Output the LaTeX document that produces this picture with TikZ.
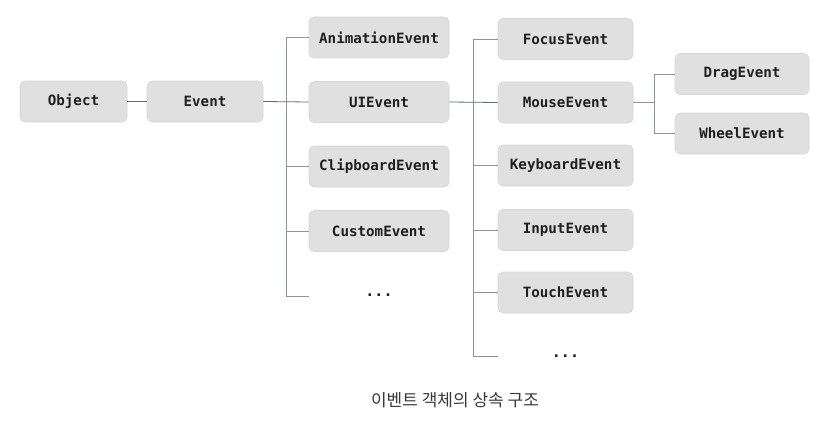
\documentclass[tikz,border=0pt]{standalone}
\usepackage{fontspec}
\setmonofont{DejaVu Sans Mono}
\newfontfamily\krfont{Noto Sans CJK KR}
\begin{document}
\begin{tikzpicture}[x=1pt,y=-1pt,
  box/.style={draw=boxline,fill=boxfill,rounded corners=5pt,line width=0.6pt,
    minimum height=41pt,inner sep=0pt,font=\ttfamily\bfseries\fontsize{14.2}{16}\selectfont,text=black!88},
  b1/.style={box,minimum width=107pt},
  b2/.style={box,minimum width=116pt},
  b3/.style={box,minimum width=140pt},
  b4/.style={box,minimum width=135pt},
  b5/.style={box,minimum width=134pt},
  conn/.style={draw=linegray,line width=0.8pt},
  mainconn/.style={draw=linedark,line width=0.8pt},
  dots/.style={font=\ttfamily\bfseries\fontsize{15}{16}\selectfont,inner sep=0pt,text=black!88}]
\definecolor{boxfill}{HTML}{E0E0E0}
\definecolor{boxline}{HTML}{D6D6D6}
\definecolor{linegray}{HTML}{8E949C}
\definecolor{linedark}{HTML}{5E6B7C}
\useasboundingbox (0,0) rectangle (820,428);
% column 0/1
\node[b1] (obj) at (73.5,101.5) {Object};
\node[b2] (evt) at (205,101.5) {Event};
% column 2
\node[b3] (anim) at (379,37.5) {AnimationEvent};
\node[b3] (ui) at (379,102) {UIEvent};
\node[b3] (clip) at (379,166.5) {ClipboardEvent};
\node[b3] (cust) at (379,231) {CustomEvent};
\node[dots] (dots2) at (379,295) {...};
% column 3
\node[b4] (focus) at (565.5,39) {FocusEvent};
\node[b4] (mouse) at (565.5,102.5) {MouseEvent};
\node[b4] (key) at (565.5,165.5) {KeyboardEvent};
\node[b4] (input) at (565.5,230) {InputEvent};
\node[b4] (touch) at (565.5,292.5) {TouchEvent};
\node[dots] (dots3) at (565.5,356) {...};
% column 4
\node[b5] (drag) at (742,74) {DragEvent};
\node[b5] (wheel) at (742,133.5) {WheelEvent};
% trunk coordinates
\coordinate (v2top) at (286,37.5);
\coordinate (v2bot) at (286,296);
\coordinate (v2end) at (309,296);
\coordinate (v3top) at (473,39);
\coordinate (v3bot) at (473,356);
\coordinate (v3end) at (498,356);
\coordinate (v4top) at (654,74);
\coordinate (v4bot) at (654,133.5);
% connectors
\draw[mainconn] (obj.east) -- (evt.west);
\draw[conn] (v2top) -- (v2bot);
\draw[conn] (v2top) -- (anim.west);
\draw[conn] (286,166.5) -- (clip.west);
\draw[conn] (286,231) -- (cust.west);
\draw[conn] (v2bot) -- (v2end);
\draw[mainconn] (evt.east) -- (ui.west);
\draw[conn] (v3top) -- (v3bot);
\draw[conn] (v3top) -- (focus.west);
\draw[conn] (473,165.5) -- (key.west);
\draw[conn] (473,230) -- (input.west);
\draw[conn] (473,292.5) -- (touch.west);
\draw[conn] (v3bot) -- (v3end);
\draw[mainconn] (ui.east) -- (mouse.west);
\draw[conn] (v4top) -- (v4bot);
\draw[conn] (v4top) -- (drag.west);
\draw[conn] (v4bot) -- (wheel.west);
\draw[conn] (mouse.east) -- (654,102.5);
% caption
\node[font=\krfont\fontsize{17}{19}\selectfont,text=black!78] (cap) at (455,400) {이벤트 객체의 상속 구조};
\end{tikzpicture}
\end{document}
